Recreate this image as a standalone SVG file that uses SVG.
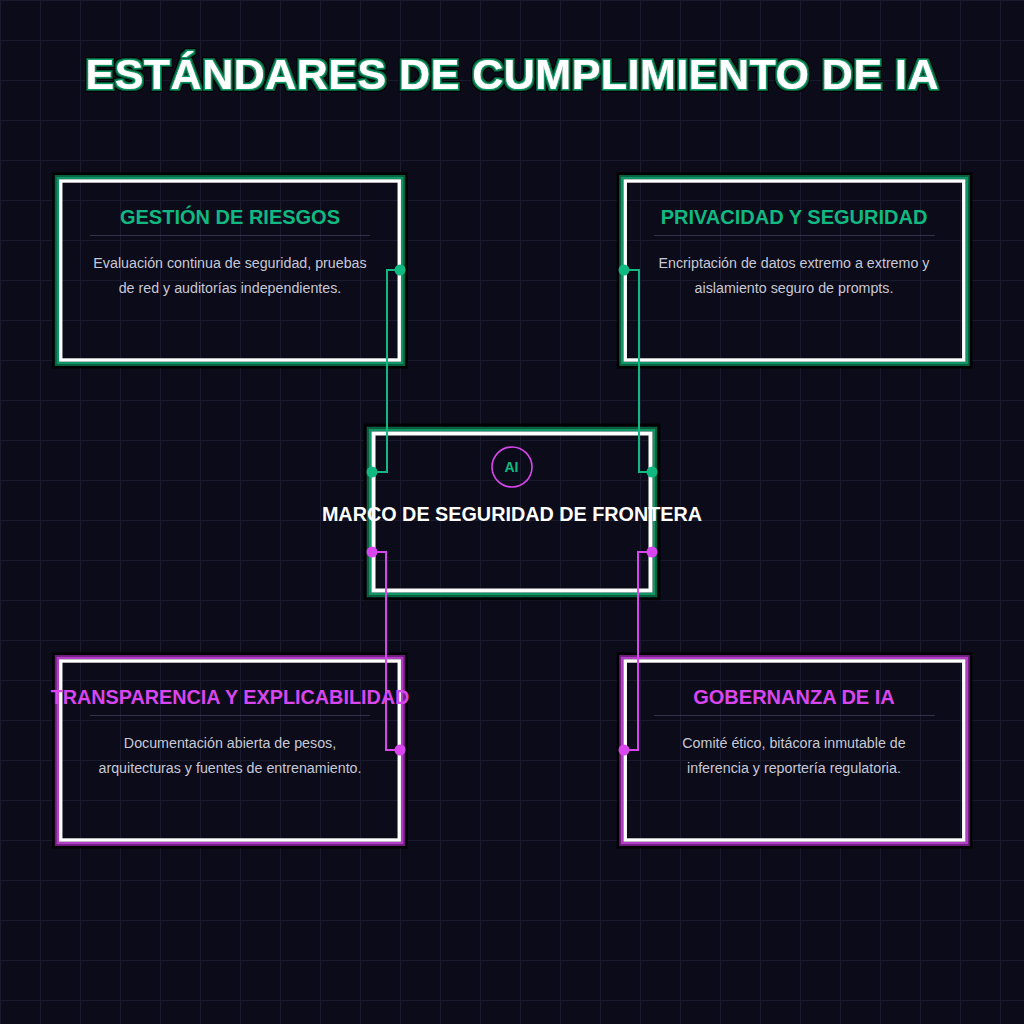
<svg xmlns="http://www.w3.org/2000/svg" xmlns:xlink="http://www.w3.org/1999/xlink" width="1024" height="1024" viewBox="0 0 1024 1024">
  <defs>
    <pattern id="grid" x="0" y="0" width="40" height="40" patternUnits="userSpaceOnUse">
      <path d="M0.5 0V40M0 0.5H40" fill="none" stroke="#1a1a2e" stroke-width="1"/>
    </pattern>
    <filter id="titleGlow" x="-5%" y="-40%" width="110%" height="180%">
      <feMorphology in="SourceAlpha" operator="dilate" radius="3" result="d3"/>
      <feFlood flood-color="#000000"/>
      <feComposite in2="d3" operator="in" result="l3"/>
      <feMorphology in="SourceAlpha" operator="dilate" radius="2" result="d2"/>
      <feFlood flood-color="#07603f"/>
      <feComposite in2="d2" operator="in" result="l2"/>
      <feMorphology in="SourceAlpha" operator="dilate" radius="1" result="d1"/>
      <feFlood flood-color="#0f9e6c"/>
      <feComposite in2="d1" operator="in" result="l1"/>
      <feMerge>
        <feMergeNode in="l3"/>
        <feMergeNode in="l2"/>
        <feMergeNode in="l1"/>
        <feMergeNode in="SourceGraphic"/>
      </feMerge>
    </filter>
    <!-- card frames centered at 0,0 (white half size 169.25 x 89.5) -->
    <g id="frameG">
      <rect x="-176.45" y="-96.7" width="352.9" height="193.4" fill="none" stroke="#000" stroke-width="2.6"/>
      <rect x="-174.35" y="-94.6" width="348.7" height="189.2" fill="none" stroke="#08603f" stroke-width="1.8"/>
      <rect x="-172.25" y="-92.5" width="344.5" height="185" fill="none" stroke="#0f9466" stroke-width="2.6"/>
      <rect x="-169.25" y="-89.5" width="338.5" height="179" fill="none" stroke="#ffffff" stroke-width="3.4"/>
    </g>
    <g id="frameM">
      <rect x="-176.45" y="-96.7" width="352.9" height="193.4" fill="none" stroke="#000" stroke-width="2.6"/>
      <rect x="-174.35" y="-94.6" width="348.7" height="189.2" fill="none" stroke="#6e1d7c" stroke-width="1.8"/>
      <rect x="-172.25" y="-92.5" width="344.5" height="185" fill="none" stroke="#b23ec6" stroke-width="2.6"/>
      <rect x="-169.25" y="-89.5" width="338.5" height="179" fill="none" stroke="#ffffff" stroke-width="3.4"/>
    </g>
    <style>
      .title { font-family: "Liberation Sans", Arial, sans-serif; font-weight: 700; font-size: 43px; fill: #ffffff; }
      .ctitle { font-family: "Liberation Sans", Arial, sans-serif; font-weight: 700; font-size: 20px; text-anchor: middle; }
      .green { fill: #10b981; }
      .magenta { fill: #d946ef; }
      .desc { font-family: "Liberation Sans", Arial, sans-serif; font-size: 14.25px; fill: #c8c8d6; text-anchor: middle; }
      .divider { stroke: #31314a; stroke-width: 1; }
      .connG { fill: none; stroke: #10b981; stroke-width: 2; }
      .connM { fill: none; stroke: #d946ef; stroke-width: 2; }
      .dotG { fill: #10b981; }
      .dotM { fill: #d946ef; }
    </style>
  </defs>

  <rect x="0" y="0" width="1024" height="1024" fill="#0b0b19"/>
  <rect x="0" y="0" width="1024" height="1024" fill="url(#grid)"/>

  <text class="title" x="512" y="89" text-anchor="middle" textLength="853" lengthAdjust="spacing" filter="url(#titleGlow)">ESTÁNDARES DE CUMPLIMIENTO DE IA</text>

  <g id="node-riesgos">
    <use href="#frameG" x="230" y="270.5"/>
    <text class="ctitle green" x="230" y="224">GESTIÓN DE RIESGOS</text>
    <line class="divider" x1="90" y1="235.5" x2="370" y2="235.5"/>
    <text class="desc" x="230" y="268">Evaluación continua de seguridad, pruebas</text>
    <text class="desc" x="230" y="292.5">de red y auditorías independientes.</text>
  </g>

  <g id="node-privacidad">
    <use href="#frameG" x="794.5" y="270.5"/>
    <text class="ctitle green" x="794" y="224">PRIVACIDAD Y SEGURIDAD</text>
    <line class="divider" x1="654" y1="235.5" x2="935" y2="235.5"/>
    <text class="desc" x="794" y="268">Encriptación de datos extremo a extremo y</text>
    <text class="desc" x="794" y="292.5">aislamiento seguro de prompts.</text>
  </g>

  <g id="node-transparencia">
    <use href="#frameM" x="230" y="750.5"/>
    <text class="ctitle magenta" x="230" y="704" style="font-size:19.8px">TRANSPARENCIA Y EXPLICABILIDAD</text>
    <line class="divider" x1="90" y1="715.5" x2="370" y2="715.5"/>
    <text class="desc" x="230" y="748">Documentación abierta de pesos,</text>
    <text class="desc" x="230" y="772.5">arquitecturas y fuentes de entrenamiento.</text>
  </g>

  <g id="node-gobernanza">
    <use href="#frameM" x="794.5" y="750.5"/>
    <text class="ctitle magenta" x="794" y="704">GOBERNANZA DE IA</text>
    <line class="divider" x1="654" y1="715.5" x2="935" y2="715.5"/>
    <text class="desc" x="794" y="748">Comité ético, bitácora inmutable de</text>
    <text class="desc" x="794" y="772.5">inferencia y reportería regulatoria.</text>
  </g>

  <g id="node-marco">
    <rect x="365" y="425" width="294" height="174" fill="none" stroke="#000" stroke-width="2.6"/>
    <rect x="367.9" y="427.9" width="288.2" height="168.2" fill="none" stroke="#08603f" stroke-width="2.2"/>
    <rect x="370.25" y="430.25" width="283.5" height="163.5" fill="none" stroke="#0f9466" stroke-width="2.5"/>
    <rect x="373.5" y="433.5" width="277" height="157" fill="none" stroke="#ffffff" stroke-width="4"/>
    <circle cx="512" cy="467" r="20" fill="none" stroke="#d946ef" stroke-width="1.6"/>
    <text class="ctitle green" x="511.5" y="472" style="font-size:14px">AI</text>
    <text class="ctitle" x="512" y="521" fill="#ffffff" style="font-size:19.8px">MARCO DE SEGURIDAD DE FRONTERA</text>
  </g>

  <g id="connectors">
    <path class="connG" d="M400 270H387V472H372"/>
    <circle class="dotG" cx="400" cy="270" r="5.5"/>
    <circle class="dotG" cx="372" cy="472" r="5.5"/>
    <path class="connG" d="M624 270H639V472H652"/>
    <circle class="dotG" cx="624" cy="270" r="5.5"/>
    <circle class="dotG" cx="652" cy="472" r="5.5"/>
    <path class="connM" d="M372 552H386V750H400"/>
    <circle class="dotM" cx="372" cy="552" r="5.5"/>
    <circle class="dotM" cx="400" cy="750" r="5.5"/>
    <path class="connM" d="M652 552H638V750H624"/>
    <circle class="dotM" cx="652" cy="552" r="5.5"/>
    <circle class="dotM" cx="624" cy="750" r="5.5"/>
  </g>
</svg>
